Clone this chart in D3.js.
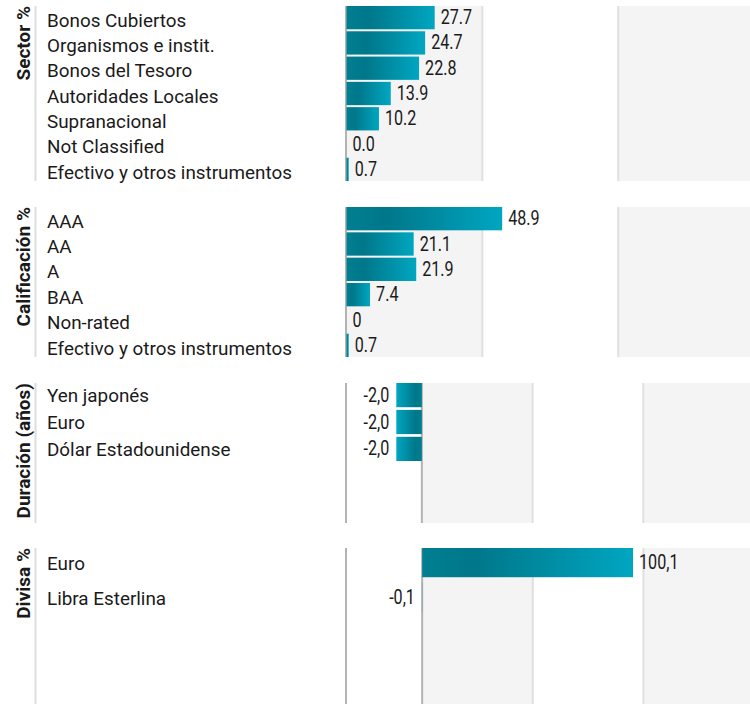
<!DOCTYPE html>
<html>
<head>
<meta charset="utf-8">
<script src="https://cdn.jsdelivr.net/npm/d3@7/dist/d3.min.js"></script>
<style>
  html, body { margin: 0; padding: 0; background: #fff; }
  svg { display: block; font-family: Roboto, "Noto Sans", sans-serif; }
</style>
</head>
<body>
<svg id="chart" width="750" height="704"></svg>
<script>
// ---- data ----
const sectorCategories = ["Bonos Cubiertos", "Organismos e instit.", "Bonos del Tesoro", "Autoridades Locales", "Supranacional", "Not Classified", "Efectivo y otros instrumentos"];
const sectorValues = [27.7, 24.7, 22.8, 13.9, 10.2, 0.0, 0.7];
const sectorLabels = ["27.7", "24.7", "22.8", "13.9", "10.2", "0.0", "0.7"];

const ratingCategories = ["AAA", "AA", "A", "BAA", "Non-rated", "Efectivo y otros instrumentos"];
const ratingValues = [48.9, 21.1, 21.9, 7.4, 0, 0.7];
const ratingLabels = ["48.9", "21.1", "21.9", "7.4", "0", "0.7"];

const durationCategories = ["Yen japonés", "Euro", "Dólar Estadounidense"];
const durationValues = [-2.0, -2.0, -2.0];
const durationLabels = ["-2,0", "-2,0", "-2,0"];

const currencyCategories = ["Euro", "Libra Esterlina"];
const currencyValues = [100.1, -0.1];
const currencyLabels = ["100,1", "-0,1"];

const sectionTitles = ["Sector %", "Calificación %", "Duración (años)", "Divisa %"];

// ---- layout ----
const sections = [
  { title: sectionTitles[0], cats: sectorCategories, vals: sectorValues, labels: sectorLabels,
    top: 6, height: 175, pitch: 25, pad: 0.08, domain: [0, 128], labelDy: 2.5 },
  { title: sectionTitles[1], cats: ratingCategories, vals: ratingValues, labels: ratingLabels,
    top: 207, height: 150, pitch: 25, pad: 0.08, domain: [0, 128], labelDy: 2.5 },
  { title: sectionTitles[2], cats: durationCategories, vals: durationValues, labels: durationLabels,
    top: 383, height: 140, pitch: 26, pad: 0.1, domain: [-5.9, 26], labelDy: 0.5 },
  { title: sectionTitles[3], cats: currencyCategories, vals: currencyValues, labels: currencyLabels,
    top: 548, height: 160, pitch: 32, pad: 0.16, domain: [-35.9, 157.5], labelDy: 1 }
];

const plotLeft = 346.5, plotRight = 754;
const FS = 19, VFS = 20;
const svg = d3.select("#chart");

// measure natural widths to emulate the condensed face of the original
function measure(str, size, weight) {
  const t = svg.append("text").attr("font-size", size).attr("font-weight", weight || "normal").text(str);
  const w = t.node().getComputedTextLength();
  t.remove();
  return w;
}
const catScale = 245 / measure("Efectivo y otros instrumentos", FS);
const valScale = 39.5 / measure("100,1", VFS);

const defs = svg.append("defs");
function grad(id, flip) {
  const gr = defs.append("linearGradient").attr("id", id)
    .attr("x1", flip ? "1" : "0").attr("x2", flip ? "0" : "1").attr("y1", "0").attr("y2", "0");
  gr.append("stop").attr("offset", "0").attr("stop-color", "#007f91");
  gr.append("stop").attr("offset", "0.25").attr("stop-color", "#00778a");
  gr.append("stop").attr("offset", "1").attr("stop-color", "#00a6c1");
}
grad("gradPos", false);
grad("gradNeg", true);

sections.forEach(sec => {
  const g = svg.append("g");
  const x = d3.scaleLinear().domain(sec.domain).range([plotLeft, plotRight]);
  const y = d3.scaleBand().domain(sec.cats)
    .range([sec.top, sec.top + sec.cats.length * sec.pitch])
    .paddingInner(sec.pad).paddingOuter(0);
  const bottom = sec.top + sec.height;
  const x0 = x(0);
  const third = (plotRight - x0) / 3;

  // background bands
  [0, 2].forEach(i => {
    g.append("rect")
      .attr("x", x0 + i * third).attr("y", sec.top)
      .attr("width", third).attr("height", sec.height)
      .attr("fill", "#f4f4f4");
  });
  // gridlines
  [1, 2].forEach(i => {
    g.append("line")
      .attr("x1", x0 + i * third).attr("x2", x0 + i * third)
      .attr("y1", sec.top).attr("y2", bottom)
      .attr("stroke", "#e0e0e0").attr("stroke-width", 2);
  });
  // left axis line
  g.append("line")
    .attr("x1", plotLeft - 0.5).attr("x2", plotLeft - 0.5)
    .attr("y1", sec.top).attr("y2", bottom)
    .attr("stroke", "#b3b3b3").attr("stroke-width", 2);
  // zero line if not at left
  if (x0 - plotLeft > 2) {
    g.append("line")
      .attr("x1", x0).attr("x2", x0)
      .attr("y1", sec.top).attr("y2", bottom)
      .attr("stroke", "#b3b3b3").attr("stroke-width", 2);
  }

  // bars
  sec.cats.forEach((c, i) => {
    const v = sec.vals[i];
    const xa = x(Math.min(0, v)), xb = x(Math.max(0, v));
    if (xb - xa > 0.01) {
      g.append("rect")
        .attr("x", xa).attr("y", y(c))
        .attr("width", xb - xa).attr("height", y.bandwidth())
        .attr("fill", v < 0 ? "url(#gradNeg)" : "url(#gradPos)");
    }
    const cy = y(c) + y.bandwidth() / 2;
    g.append("text")
      .attr("transform", `translate(${v < 0 ? xa - 7 : xb + 6},${cy - 0.5}) scale(${valScale},1)`)
      .attr("dy", "0.35em")
      .attr("text-anchor", v < 0 ? "end" : "start")
      .attr("font-size", VFS)
      .attr("fill", "#1a1a1a")
      .text(sec.labels[i]);
    // category label
    g.append("text")
      .attr("transform", `translate(47,${cy + sec.labelDy}) scale(${catScale},1)`)
      .attr("dy", "0.35em")
      .attr("font-size", FS)
      .attr("fill", "#1a1a1a")
      .text(c);
  });

  // section divider line
  g.append("line")
    .attr("x1", 35.5).attr("x2", 35.5)
    .attr("y1", sec.top).attr("y2", bottom)
    .attr("stroke", "#dddddd").attr("stroke-width", 2);
  // rotated title
  g.append("text")
    .attr("transform", `translate(29.5,${sec.top}) rotate(-90)`)
    .attr("text-anchor", "end")
    .attr("font-size", FS)
    .attr("font-weight", "bold")
    .attr("fill", "#1a1a1a")
    .text(sec.title);
});
</script>
</body>
</html>
